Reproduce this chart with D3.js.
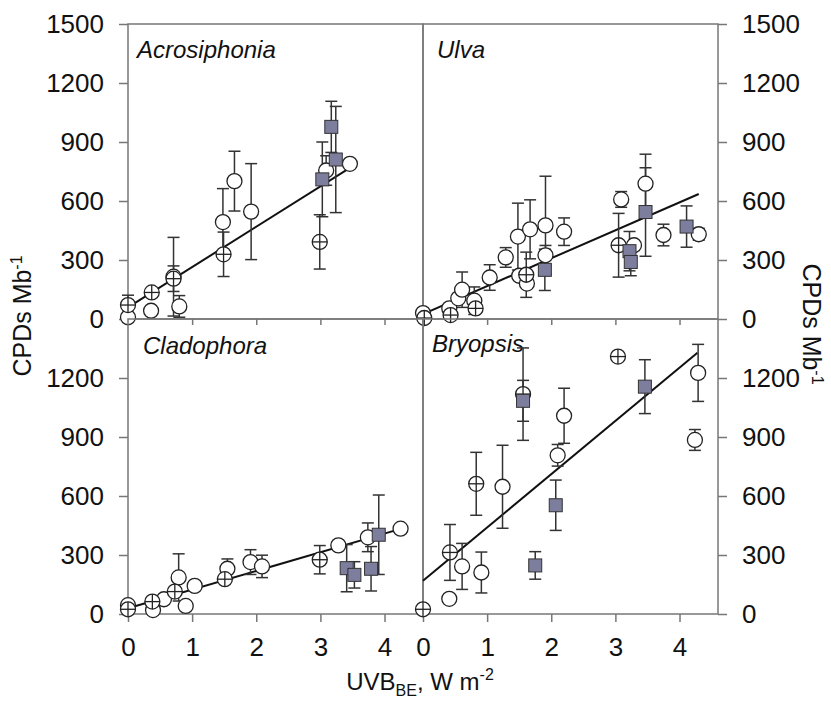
<!DOCTYPE html>
<html>
<head>
<meta charset="utf-8">
<script src="https://cdn.jsdelivr.net/npm/d3@7"></script>
<style>
  body { margin: 0; background: #fff; }
  svg text { font-family: "Liberation Sans", Arial, sans-serif; fill: #111; }
</style>
</head>
<body>
<svg id="chart" width="831" height="702"></svg>
<script>
// each point: [UVB_BE (W m-2), CPDs per Mb, error]
const acroOpen = [[0.00, 9, 0], [0.36, 42, 0], [0.71, 215, 200], [0.80, 64, 55], [1.48, 493, 170],
  [1.66, 701, 152], [1.92, 546, 244], [3.09, 755, 75], [3.46, 789, 0]];
const acroCross = [[0.00, 71, 50], [0.37, 135, 0], [0.71, 205, 65], [1.49, 329, 113], [2.99, 392, 138]];
const acroSquare = [[3.03, 710, 190], [3.17, 977, 130], [3.24, 811, 270]];
const acroFit = [59, 205, 3.46]; // intercept, slope, last x

const ulvaOpen = [[0.00, 30, 0], [0.41, 54, 0], [0.55, 105, 0], [0.61, 149, 90], [0.80, 93, 70],
  [1.04, 211, 65], [1.29, 313, 50], [1.48, 419, 170], [1.50, 220, 0], [1.62, 180, 0], [1.67, 456, 150],
  [1.91, 476, 250], [1.91, 324, 50], [2.20, 444, 70], [3.09, 608, 40], [3.29, 375, 0], [3.47, 688, 150],
  [3.75, 427, 55], [4.30, 431, 30]];
const ulvaCross = [[0.02, 5, 0], [0.43, 20, 0], [0.82, 54, 0], [1.61, 225, 115], [3.05, 375, 162]];
const ulvaSquare = [[1.90, 250, 105], [3.22, 345, 100], [3.24, 290, 70], [3.47, 544, 225], [4.11, 470, 105]];
const ulvaFit = [25, 142, 4.30];

const cladOpen = [[0.00, 45, 0], [0.39, 20, 0], [0.56, 75, 0], [0.79, 186, 120], [0.90, 41, 0],
  [1.04, 143, 0], [1.55, 230, 50], [1.91, 264, 63], [2.09, 242, 57], [3.28, 349, 0], [3.74, 390, 73],
  [4.25, 434, 0]];
const cladCross = [[0.00, 24, 0], [0.38, 63, 0], [0.73, 114, 0], [1.51, 177, 0], [2.99, 276, 72]];
const cladSquare = [[3.41, 233, 120], [3.53, 199, 67], [3.79, 230, 113], [3.91, 403, 202]];
const cladFit = [29, 95, 4.25];

const bryoOpen = [[0.41, 77, 0], [0.61, 242, 117], [0.91, 211, 104], [1.24, 647, 211], [2.10, 807, 55],
  [2.20, 1008, 140], [4.29, 1226, 145], [4.24, 885, 53]];
const bryoCross = [[0.00, 24, 0], [0.42, 313, 142], [0.83, 662, 160], [1.56, 1118, 235], [3.04, 1309, 0]];
const bryoSquare = [[1.56, 1084, 104], [1.75, 247, 70], [2.07, 553, 128], [3.46, 1156, 137]];
const bryoFit = [169, 271, 4.28];

const xTicks = [0, 1, 2, 3, 4];
const yTicksTop = [0, 300, 600, 900, 1200, 1500];
const yTicksBottom = [0, 300, 600, 900, 1200];

const panels = [
  { name: "Acrosiphonia", col: 0, row: 0, open: acroOpen, cross: acroCross, square: acroSquare, fit: acroFit, lx: 9, ly: 34 },
  { name: "Ulva", col: 1, row: 0, open: ulvaOpen, cross: ulvaCross, square: ulvaSquare, fit: ulvaFit, lx: 14, ly: 34 },
  { name: "Cladophora", col: 0, row: 1, open: cladOpen, cross: cladCross, square: cladSquare, fit: cladFit, lx: 15, ly: 35 },
  { name: "Bryopsis", col: 1, row: 1, open: bryoOpen, cross: bryoCross, square: bryoSquare, fit: bryoFit, lx: 9, ly: 33 }
];

const marginLeft = 128, marginTop = 24, pw = 295, ph = 295;
const axisColor = "#777";
const r = 7.5, sq = 13, cap = 6;

const svg = d3.select("#chart");

panels.forEach(p => {
  const x0 = marginLeft + p.col * pw;
  const y0 = marginTop + p.row * ph;
  const x = d3.scaleLinear().domain([0, 4.6]).range([x0, x0 + pw]);
  const y = d3.scaleLinear().domain([0, 1500]).range([y0 + ph, y0]);
  const g = svg.append("g");

  // y axis on the outer side
  const yAxis = (p.col === 0 ? d3.axisLeft(y) : d3.axisRight(y))
    .tickValues(p.row === 0 ? yTicksTop : yTicksBottom)
    .tickFormat(d3.format("d"))
    .tickSize(9).tickPadding(15);
  const ya = g.append("g")
    .attr("transform", `translate(${p.col === 0 ? x0 : x0 + pw},0)`)
    .call(yAxis);

  // x axis
  let xAxis = d3.axisBottom(x).tickValues(xTicks).tickFormat(d3.format("d"));
  if (p.row === 1) xAxis.tickSize(8).tickPadding(16);
  else xAxis.tickValues([1, 2, 3, 4]).tickSize(6).tickFormat("");
  const xa = g.append("g")
    .attr("transform", `translate(0,${y0 + ph})`)
    .call(xAxis);

  [ya, xa].forEach(a => {
    a.select(".domain").remove();
    a.selectAll(".tick line").attr("stroke", axisColor).attr("stroke-width", 1.5);
    a.selectAll(".tick text").style("font-size", "26px").attr("fill", "#111");
  });

  g.append("rect")
    .attr("x", x0).attr("y", y0).attr("width", pw).attr("height", ph)
    .attr("fill", "none").attr("stroke", axisColor).attr("stroke-width", 1.5);

  g.append("text")
    .attr("x", x0 + p.lx).attr("y", y0 + p.ly)
    .style("font-size", "24px").style("font-style", "italic")
    .text(p.name);

  // regression line
  const [b0, b1, xmax] = p.fit;
  g.append("path")
    .datum([0, xmax])
    .attr("d", d3.line().x(d => x(d)).y(d => y(b0 + b1 * d)))
    .attr("stroke", "#111").attr("stroke-width", 2).attr("fill", "none");

  // error bars
  const all = p.open.concat(p.cross, p.square).filter(d => d[2] > 0);
  const eb = g.selectAll(".eb").data(all).enter().append("g")
    .attr("stroke", "#333").attr("stroke-width", 1.5);
  eb.append("line")
    .attr("x1", d => x(d[0])).attr("x2", d => x(d[0]))
    .attr("y1", d => y(d[1] + d[2])).attr("y2", d => y(Math.max(0, d[1] - d[2])));
  eb.append("line")
    .attr("x1", d => x(d[0]) - cap).attr("x2", d => x(d[0]) + cap)
    .attr("y1", d => y(d[1] + d[2])).attr("y2", d => y(d[1] + d[2]));
  eb.append("line")
    .attr("x1", d => x(d[0]) - cap).attr("x2", d => x(d[0]) + cap)
    .attr("y1", d => y(Math.max(0, d[1] - d[2]))).attr("y2", d => y(Math.max(0, d[1] - d[2])));

  // open circles
  g.selectAll(".open").data(p.open).enter().append("circle")
    .attr("cx", d => x(d[0])).attr("cy", d => y(d[1])).attr("r", r)
    .attr("fill", "#fff").attr("stroke", "#222").attr("stroke-width", 1.3);

  // crossed circles
  const cr = g.selectAll(".cross").data(p.cross).enter().append("g")
    .attr("transform", d => `translate(${x(d[0])},${y(d[1])})`)
    .attr("stroke", "#222").attr("stroke-width", 1.3);
  cr.append("circle").attr("r", r).attr("fill", "#fff");
  cr.append("line").attr("x1", -r).attr("x2", r);
  cr.append("line").attr("y1", -r).attr("y2", r);

  // squares
  g.selectAll(".sq").data(p.square).enter().append("rect")
    .attr("x", d => x(d[0]) - sq / 2).attr("y", d => y(d[1]) - sq / 2)
    .attr("width", sq).attr("height", sq)
    .attr("fill", "#7d7d9e").attr("stroke", "#333").attr("stroke-width", 1);
});

// axis titles
const xt = svg.append("text").attr("x", 420).attr("y", 690)
  .attr("text-anchor", "middle").style("font-size", "24px");
xt.append("tspan").text("UVB");
xt.append("tspan").attr("dy", 6).style("font-size", "16px").text("BE");
xt.append("tspan").attr("dy", -6).text(", W m");
xt.append("tspan").attr("dy", -10).style("font-size", "16px").text("-2");

[[31, 316, -90], [803, 324, 90]].forEach(([tx, ty, rot]) => {
  const t = svg.append("text")
    .attr("transform", `translate(${tx},${ty}) rotate(${rot})`)
    .attr("text-anchor", "middle").style("font-size", "25px");
  t.append("tspan").text("CPDs Mb");
  t.append("tspan").attr("dy", -9).style("font-size", "16px").text("-1");
});
</script>
</body>
</html>
